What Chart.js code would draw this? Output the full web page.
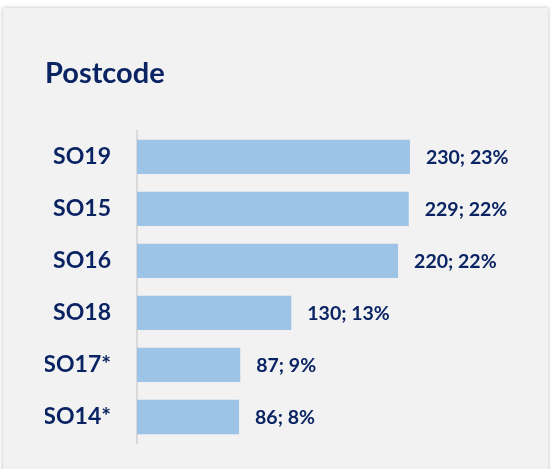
<!DOCTYPE html>
<html>
<head>
<meta charset="utf-8">
<script src="https://cdn.jsdelivr.net/npm/chart.js@4"></script>
<style>
  html, body { margin: 0; padding: 0; background: #fff; }
  body { width: 551px; height: 469px; position: relative; overflow: hidden; }
  .card { position: absolute; left: 3px; top: 8px; width: 545px; height: 480px;
          background: #f2f2f2; box-shadow: 0 0 4px rgba(0,0,0,0.28); }
  .wrap { position: absolute; left: 0; top: 0; width: 551px; height: 469px; }
</style>
</head>
<body>
<div class="card"></div>
<div class="wrap"><canvas id="chart" width="551" height="469"></canvas></div>
<script>
const postcodes = ['SO19', 'SO15', 'SO16', 'SO18', 'SO17*', 'SO14*'];
const counts = [230, 229, 220, 130, 87, 86];
const percents = [23, 22, 22, 13, 9, 8];

const navy = '#0a2463';
const font = 'Lato, "Open Sans", sans-serif';

// value labels drawn after the bars, just past each bar's end
const barLabels = {
  id: 'barLabels',
  afterDatasetsDraw(chart) {
    const ctx = chart.ctx;
    const meta = chart.getDatasetMeta(0);
    ctx.save();
    ctx.fillStyle = navy;
    ctx.font = 'bold 19.5px ' + font;
    ctx.textAlign = 'left';
    ctx.textBaseline = 'middle';
    meta.data.forEach((bar, i) => {
      ctx.fillText(counts[i] + '; ' + percents[i] + '%', bar.x + 16, bar.y + 1);
    });
    ctx.restore();
  }
};

new Chart(document.getElementById('chart'), {
  type: 'bar',
  data: {
    labels: postcodes,
    datasets: [{
      data: counts,
      backgroundColor: '#9dc3e6',
      borderWidth: 0,
      categoryPercentage: 1,
      barPercentage: 0.66
    }]
  },
  options: {
    indexAxis: 'y',
    responsive: false,
    animation: false,
    layout: { padding: { left: 45, right: 58, top: 56, bottom: 26 } },
    plugins: {
      legend: { display: false },
      tooltip: { enabled: false },
      title: {
        display: true,
        text: 'Postcode',
        align: 'start',
        color: navy,
        font: { family: font, size: 29, weight: 'bold' },
        padding: { top: 0, bottom: 40 }
      }
    },
    scales: {
      x: { display: false, min: 0, max: 300 },
      y: {
        afterFit(scale) {
          scale.width = 92;
          scale.paddingTop = 0;
          scale.paddingBottom = 0;
        },
        grid: { display: false, drawTicks: false },
        border: { display: true, color: '#d9d9d9', width: 2 },
        ticks: {
          color: navy,
          padding: 26,
          font: { family: font, size: 23, weight: 'bold' }
        }
      }
    }
  },
  plugins: [barLabels]
});
</script>
</body>
</html>
